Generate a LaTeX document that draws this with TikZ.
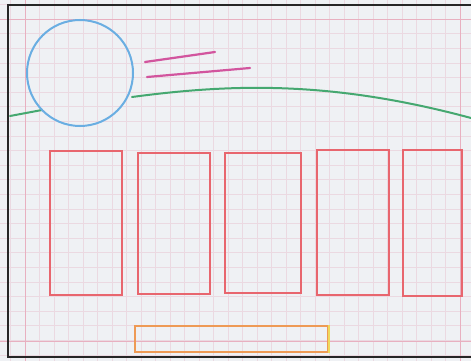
\documentclass[tikz,border=0pt]{standalone}
\definecolor{paper}{HTML}{EFF1F4}
\definecolor{gridpink}{HTML}{EBD9E1}
\definecolor{marginpink}{HTML}{E8B0C0}
\definecolor{skyblue}{HTML}{6AAEE2}
\definecolor{streak}{HTML}{D2559E}
\definecolor{hill}{HTML}{45A870}
\definecolor{boxred}{HTML}{E8666E}
\definecolor{barorange}{HTML}{EE9A55}
\definecolor{baryellow}{HTML}{EED85A}
\begin{document}
\begin{tikzpicture}[x=1pt,y=-1pt,
  gridline/.style={gridpink,line width=0.5pt},
  margin/.style={marginpink,line width=0.7pt},
  window/.style={rectangle,draw=boxred,line width=2.8pt,inner sep=0pt}]
\useasboundingbox (0,0) rectangle (471,361);
\fill[paper] (0,0) rectangle (471,361);
% squared paper
\begin{scope}
\clip (0,0) rectangle (471,361);
\foreach \gx in {-1,...,31} \draw[gridline] ({25+\gx*14.5},0) -- ++(0,361);
\foreach \gy in {-1,...,23} \draw[gridline] (0,{19+\gy*14.6}) -- ++(471,0);
\end{scope}
\draw[margin] (25,0) -- (25,361);
\draw[margin] (460,0) -- (460,361);
\draw[margin] (0,19) -- (471,19);
\draw[margin] (0,341) -- (471,341);
% frame
\draw[black!85,line width=2.6pt] (471,5) -- (8,5) -- (8,357) -- (471,357);
% hill line
\draw[hill,line width=2pt,line cap=round] (10,116) -- (42,110);
\draw[hill,line width=2pt,line cap=round] (132,97) .. controls (230,84) and (330,80) .. (471,118);
% sun and streaks
\node[circle,draw=skyblue,line width=2pt,minimum size=106pt,inner sep=0pt] (sun) at (80,73) {};
\draw[streak,line width=2.2pt,line cap=round] (145,62) -- (215,52);
\draw[streak,line width=2.2pt,line cap=round] (147,77) -- (250,68);
% windows
\node[window,minimum width=72pt,minimum height=144pt] (r1) at (86,223) {};
\node[window,minimum width=72pt,minimum height=141pt] (r2) at (174,223.5) {};
\node[window,minimum width=76pt,minimum height=140pt] (r3) at (263,223) {};
\node[window,minimum width=72pt,minimum height=145pt] (r4) at (353,222.5) {};
\node[window,minimum width=59pt,minimum height=146pt] (r5) at (432.5,223) {};
% bar
\node[rectangle,draw=barorange,line width=1.8pt,minimum width=193pt,minimum height=26pt,inner sep=0pt] (bar) at (231.5,339) {};
\draw[baryellow,line width=1.8pt] (bar.north east) -- (bar.south east);
\end{tikzpicture}
\end{document}
